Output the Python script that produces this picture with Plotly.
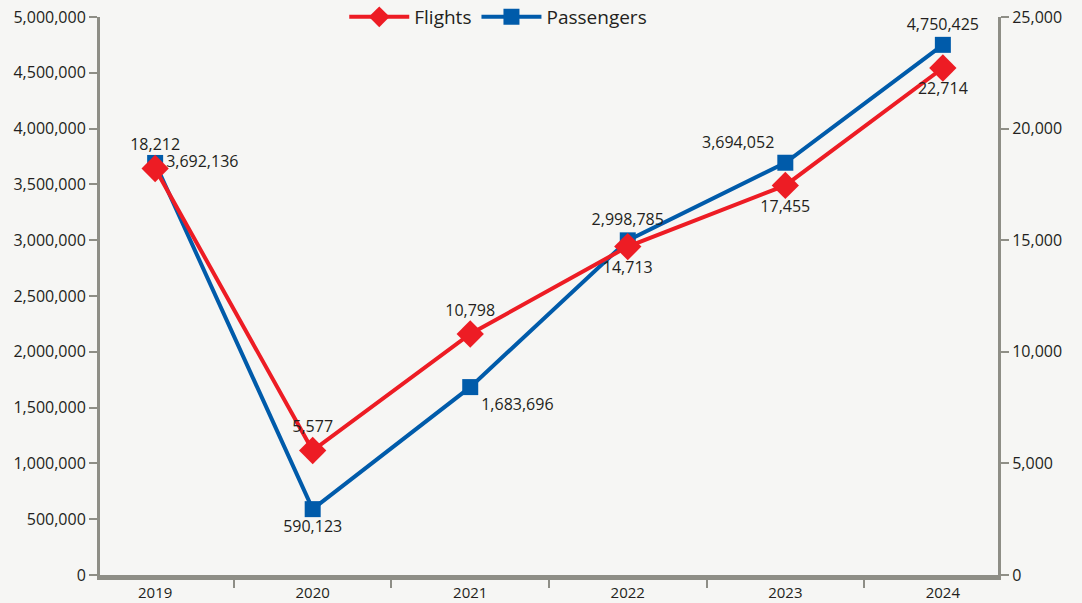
import plotly.graph_objects as go

years = ["2019", "2020", "2021", "2022", "2023", "2024"]
flights = [18212, 5577, 10798, 14713, 17455, 22714]
passengers = [3692136, 590123, 1683696, 2998785, 3694052, 4750425]

left_ticks = list(range(0, 5000001, 500000))
right_ticks = list(range(0, 25001, 5000))

flight_text_pos = ["top center", "top center", "top center", "bottom center", "bottom center", "bottom center"]
pass_text_pos = ["middle right", "bottom center", "bottom right", "top center", "top left", "top center"]

RED = "#ED1C24"
BLUE = "#005BAA"
AXIS = "#8E8E86"
TXT = "#231F20"
BG = "#F6F6F4"
FONT = "Open Sans"

fig = go.Figure()
fig.add_trace(go.Scatter(
    x=years, y=passengers, name="Passengers", yaxis="y",
    mode="lines+markers+text",
    line=dict(color=BLUE, width=4),
    marker=dict(symbol="square", size=16, color=BLUE),
    texttemplate="%{y:,.0f}", textposition=pass_text_pos,
    textfont=dict(size=16, color=TXT, family=FONT),
    cliponaxis=False, legendrank=2,
))
fig.add_trace(go.Scatter(
    x=years, y=flights, name="Flights", yaxis="y2",
    mode="lines+markers+text",
    line=dict(color=RED, width=4),
    marker=dict(symbol="diamond", size=21, color=RED),
    texttemplate="%{y:,.0f}", textposition=flight_text_pos,
    textfont=dict(size=16, color=TXT, family=FONT),
    cliponaxis=False, legendrank=1,
))

fig.update_layout(
    width=1082, height=603,
    margin=dict(l=100, r=84, t=17, b=28, autoexpand=False),
    paper_bgcolor=BG, plot_bgcolor=BG,
    font=dict(family=FONT, size=16, color=TXT),
    showlegend=True,
    legend=dict(orientation="h", x=0.272, xanchor="left", y=1.0, yanchor="middle",
                font=dict(size=19, color=TXT), bgcolor="rgba(0,0,0,0)",
                itemwidth=60, traceorder="normal"),
    xaxis=dict(type="category", range=[-0.35, 5.35], tickson="boundaries",
               ticks="outside", ticklen=8, tickwidth=2, tickcolor=AXIS,
               showline=True, linecolor=AXIS, linewidth=5, showgrid=False,
               zeroline=False, tickfont=dict(size=15, color=TXT)),
    yaxis=dict(range=[0, 5000000], tickvals=left_ticks, tickformat=",",
               ticks="outside", ticklen=8, tickwidth=2, tickcolor=AXIS,
               showline=True, linecolor=AXIS, linewidth=3, showgrid=False,
               zeroline=False, tickfont=dict(size=16, color=TXT)),
    yaxis2=dict(range=[0, 25000], tickvals=right_ticks, tickformat=",",
                overlaying="y", side="right",
                ticks="outside", ticklen=8, tickwidth=2, tickcolor=AXIS,
                showline=True, linecolor=AXIS, linewidth=3, showgrid=False,
                zeroline=False, tickfont=dict(size=16, color=TXT)),
)

fig.write_html(
    "out.html",
    config={"displayModeBar": False},
    post_script="document.body.style.margin='0';document.body.style.background='" + BG + "';",
)
